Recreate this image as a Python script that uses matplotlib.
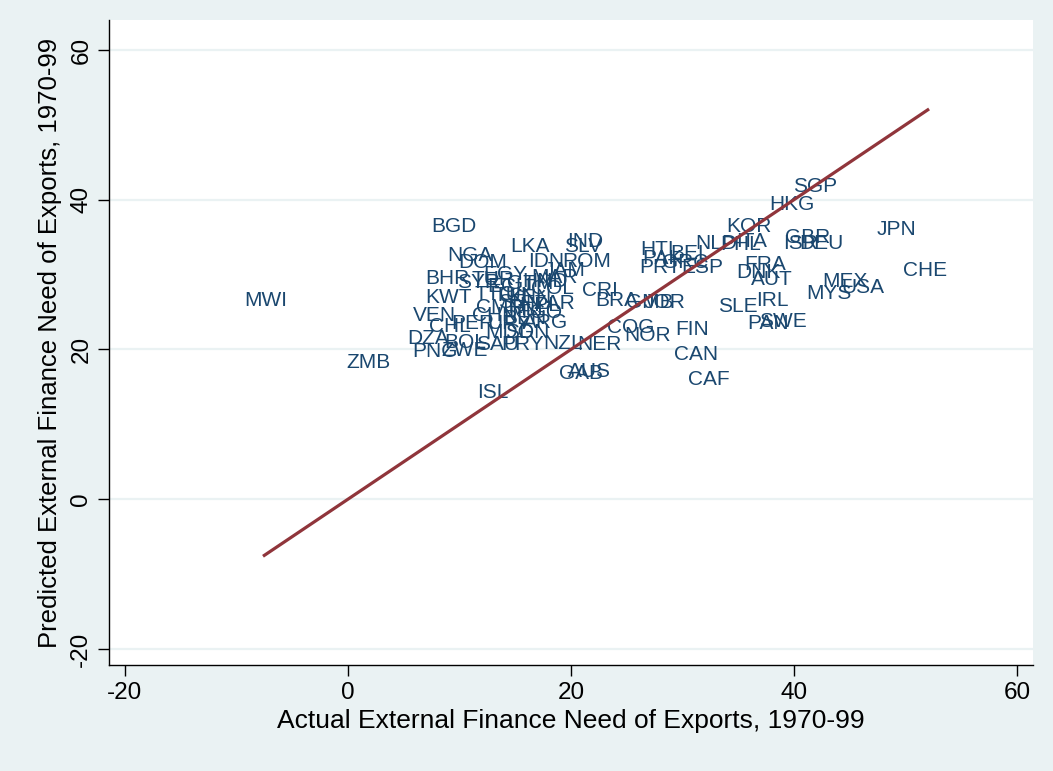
import matplotlib
matplotlib.use("Agg")
import matplotlib.pyplot as plt

plt.rcParams['font.family'] = ['Liberation Sans', 'DejaVu Sans']
plt.rcParams['axes.unicode_minus'] = False

# Country codes with (actual, predicted) external finance need of exports
countries = ["MWI", "ZMB", "BGD", "NGA", "DOM", "LKA", "IND", "SLV", "IDN", "ROM",
             "BHR", "KWT", "VEN", "CHL", "PER", "DZA", "PNG", "BOL", "ZWE", "SAU",
             "PRY", "NZL", "NER", "MDG", "SDN", "ISL", "GAB", "AUS", "CRI", "BRA",
             "COG", "NOR", "GMB", "JOR", "FIN", "CAN", "CAF", "HTI", "BEL", "PRT",
             "ESP", "PAK", "GRC", "NLD", "PHL", "ITA", "KOR", "HKG", "SGP", "GBR",
             "ISR", "DEU", "JPN", "CHE", "MEX", "USA", "MYS", "FRA", "DNK", "AUT",
             "IRL", "SLE", "PAN", "SWE",
             "SYR", "TUR", "EGY", "JAM", "ECU", "GTM", "HND", "MAR", "TTO", "TUN",
             "KEN", "COL", "CMR", "CHN", "SEN", "MLI", "NPL", "ZAR", "TGO", "BEN",
             "URY", "ARG"]
actual = [-7.4, 1.8, 9.5, 10.9, 12.1, 16.3, 21.3, 21.1, 17.8, 21.4,
          8.9, 9.0, 7.8, 9.1, 11.2, 7.2, 7.8, 10.5, 10.5, 13.4,
          15.7, 19.3, 22.6, 14.5, 16.1, 13.0, 20.9, 21.7, 22.6, 24.1,
          25.4, 26.9, 27.1, 28.4, 30.9, 31.2, 32.4, 27.7, 30.7, 28.0,
          31.8, 28.2, 30.2, 33.0, 35.2, 36.2, 36.0, 39.8, 41.9, 41.2,
          40.6, 42.5, 49.2, 51.8, 44.6, 46.2, 43.1, 37.4, 36.8, 38.0,
          38.1, 35.0, 37.7, 39.0,
          11.7, 13.0, 14.1, 19.4, 14.5, 16.3, 17.7, 18.5, 13.2, 15.0,
          16.3, 18.3, 13.6, 13.2, 15.4, 15.9, 17.2, 18.5, 17.2, 15.9,
          14.5, 17.7]
predicted = [26.6, 18.2, 36.4, 32.5, 31.6, 33.8, 34.4, 33.7, 31.7, 31.7,
             29.5, 27.0, 24.5, 23.1, 23.5, 21.5, 19.7, 20.9, 19.8, 20.6,
             20.6, 20.8, 20.6, 22.2, 22.2, 14.3, 16.8, 17.0, 27.9, 26.6,
             22.9, 21.9, 26.3, 26.3, 22.6, 19.3, 16.0, 33.4, 32.8, 30.9,
             30.9, 32.1, 31.6, 34.2, 34.0, 34.4, 36.4, 39.4, 41.8, 35.0,
             34.2, 34.2, 36.0, 30.6, 29.1, 28.3, 27.5, 31.3, 30.3, 29.3,
             26.6, 25.7, 23.5, 23.8,
             28.9, 29.4, 30.0, 30.5, 28.4, 28.8, 29.1, 29.6, 27.3, 27.2,
             26.9, 28.1, 25.6, 24.6, 26.3, 25.4, 25.9, 26.1, 25.0, 24.2,
             23.5, 23.6]
line_x = [-7.5, 52.0]
line_y = [-7.5, 52.0]

xticks = [-20, 0, 20, 40, 60]
yticks = [-20, 0, 20, 40, 60]

bg = "#EAF2F3"
navy = "#1a476f"
maroon = "#90353B"

fig = plt.figure(figsize=(10.53, 7.71), dpi=100, facecolor=bg)
ax = fig.add_axes([109/1053, 1-665/771, (1033-109)/1053, (665-20)/771])
ax.set_facecolor("white")

for yt in yticks:
    ax.axhline(yt, color=bg, lw=1.6, zorder=0)

for c, x, y in zip(countries, actual, predicted):
    ax.text(x, y, c, color=navy, fontsize=15, ha="center", va="center", zorder=2)

ax.plot(line_x, line_y, color=maroon, lw=2.3, zorder=3)

ax.set_xlim(-21.43, 61.44)
ax.set_ylim(-22.14, 64.0)
ax.set_xticks(xticks)
ax.set_yticks(yticks)
ax.set_yticklabels([str(t) for t in yticks], rotation=90, va="center")
ax.tick_params(axis="both", labelsize=17.5, length=8, width=1, color="black", pad=4)
for s in ["top", "right"]:
    ax.spines[s].set_visible(False)
for s in ["left", "bottom"]:
    ax.spines[s].set_color("black")
    ax.spines[s].set_linewidth(1)

ax.set_xlabel("Actual External Finance Need of Exports, 1970-99", fontsize=19, labelpad=4)
ax.set_ylabel("Predicted External Finance Need of Exports, 1970-99", fontsize=18.5, labelpad=6)

fig.savefig("out.png", dpi=100, facecolor=bg)
